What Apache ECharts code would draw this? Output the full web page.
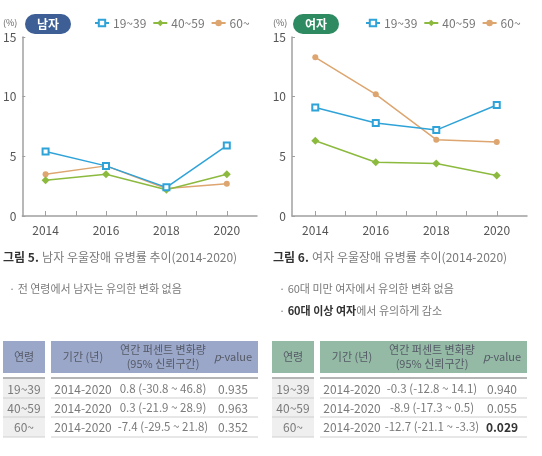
<!DOCTYPE html>
<html><head><meta charset="utf-8">
<script src="https://cdn.jsdelivr.net/npm/echarts@6/dist/echarts.min.js"></script>
<style>html,body{margin:0;padding:0;background:#fff}#c{width:542px;height:456px}</style>
</head><body><div id="c"></div>
<script>
const years = [2014, 2016, 2018, 2020];
const tickYears = [2014, 2015, 2016, 2017, 2018, 2019, 2020];
const ageGroups = ['19~39', '40~59', '60~'];
const men1939 = [5.4, 4.2, 2.4, 5.9];
const men4059 = [3.0, 3.5, 2.2, 3.5];
const men60 = [3.5, 4.2, 2.3, 2.7];
const women1939 = [9.1, 7.8, 7.2, 9.3];
const women4059 = [6.3, 4.5, 4.4, 3.4];
const women60 = [13.3, 10.2, 6.4, 6.2];
const yMin = 0, yMax = 15, yStep = 5;
const unitLabel = '(%)';
const badges = ['남자', '여자'];
const captionBold = ['그림 5.', '그림 6.'];
const captionText = ['남자 우울장애 유병률 추이(2014-2020)', '여자 우울장애 유병률 추이(2014-2020)'];
const menNotes = ['· 전 연령에서 남자는 유의한 변화 없음'];
const womenNote1 = '· 60대 미만 여자에서 유의한 변화 없음';
const womenNote2Bold = '60대 이상 여자';
const womenNote2Rest = '에서 유의하게 감소';
const tableHead = ['연령', '기간 (년)', '연간 퍼센트 변화량', '(95% 신뢰구간)', 'p', '-value'];
const period = ['2014-2020', '2014-2020', '2014-2020'];
const menAPC = ['0.8 (-30.8 ~ 46.8)', '0.3 (-21.9 ~ 28.9)', '-7.4 (-29.5 ~ 21.8)'];
const menP = ['0.935', '0.963', '0.352'];
const womenAPC = ['-0.3 (-12.8 ~ 14.1)', '-8.9 (-17.3 ~ 0.5)', '-12.7 (-21.1 ~ -3.3)'];
const womenP = ['0.940', '0.055', '0.029'];
const womenPBold = [false, false, true];

const FONT = '"Noto Sans CJK KR", "Noto Sans", sans-serif';
const colors = ['#2fa3d8', '#8cba3e', '#dda56f'];
const symbols = ['emptyRect', 'diamond', 'circle'];
const symSizes = [6, 8, 6];

function pairs(v) { return years.map((y, i) => [y, v[i]]); }

function mkSeries(idx, vals, name, k) {
  return {
    type: 'line', name: name, xAxisIndex: idx, yAxisIndex: idx,
    data: pairs(vals), symbol: symbols[k], symbolSize: symSizes[k],
    z: k === 0 ? 5 : 3 - k + 2,
    lineStyle: { color: colors[k], width: 1.5 },
    itemStyle: { color: colors[k], borderColor: colors[k], borderWidth: k === 0 ? 1.6 : 0 },
    emphasis: { disabled: true }, animation: false
  };
}

function mkX(idx) {
  return {
    type: 'value', gridIndex: idx, min: 2013.23, max: 2021,
    axisLine: { show: true, lineStyle: { color: '#a0a0a0', width: 1.5 } },
    axisTick: { show: true, inside: true, length: 5, customValues: tickYears, lineStyle: { color: '#a0a0a0' } },
    axisLabel: { customValues: years, color: '#555', fontSize: 12, fontFamily: FONT, margin: 8, formatter: v => String(v) },
    splitLine: { show: false }
  };
}
function mkY(idx) {
  return {
    type: 'value', gridIndex: idx, min: yMin, max: yMax, interval: yStep,
    axisLine: { show: true, lineStyle: { color: '#a0a0a0', width: 1.5 } },
    axisTick: { show: true, inside: true, length: 3, lineStyle: { color: '#a0a0a0' } },
    axisLabel: { color: '#555', fontSize: 12, fontFamily: FONT, margin: 6 },
    splitLine: { show: false }
  };
}

function txt(x, y, text, opt) {
  opt = opt || {};
  return {
    type: 'text', x: x, y: y, silent: true,
    style: Object.assign({
      text: text, fill: '#666', font: (opt.weight || 'normal') + ' ' + (opt.size || 12) + 'px ' + FONT,
      align: opt.align || 'left', textAlign: opt.align || 'left',
      verticalAlign: 'middle', textVerticalAlign: 'middle'
    }, opt.style || {})
  };
}

const graphics = [];
[[3, 25, '#3d5f96'], [273, 293, '#2d8a61']].forEach((p, i) => {
  graphics.push(txt(p[0], 23, unitLabel, { size: 9, style: { fill: '#666' } }));
  graphics.push({ type: 'rect', silent: true, shape: { x: p[1], y: 14, width: 46, height: 20, r: 10 }, style: { fill: p[2] } });
  graphics.push(txt(p[1] + 23, 24, badges[i], { size: 12, weight: 'bold', align: 'center', style: { fill: '#fff' } }));
});
[3, 273].forEach((x, i) => {
  graphics.push({
    type: 'text', x: x, y: 257, silent: true,
    style: {
      text: '{b|' + captionBold[i] + '} {n|' + captionText[i] + '}',
      verticalAlign: 'middle', textVerticalAlign: 'middle',
      rich: {
        b: { fontFamily: FONT, fontSize: 12, fontWeight: 'bold', fill: '#333', color: '#333' },
        n: { fontFamily: FONT, fontSize: 12, fill: '#7a7a7a', color: '#7a7a7a' }
      }
    }
  });
});
graphics.push(txt(9, 289, menNotes[0], { size: 11, style: { fill: '#7a7a7a' } }));
graphics.push(txt(279, 289, womenNote1, { size: 11, style: { fill: '#7a7a7a' } }));
graphics.push({
  type: 'text', x: 279, y: 311, silent: true,
  style: {
    text: '{n|· }{b|' + womenNote2Bold + '}{n|' + womenNote2Rest + '}',
    verticalAlign: 'middle', textVerticalAlign: 'middle',
    rich: {
      b: { fontFamily: FONT, fontSize: 11, fontWeight: 'bold', fill: '#333', color: '#333' },
      n: { fontFamily: FONT, fontSize: 11, fill: '#7a7a7a', color: '#7a7a7a' }
    }
  }
});

function table(x0, hdrColor, apc, pv, pBold) {
  const c1 = [x0, x0 + 42];
  const c2 = [x0 + 48, x0 + 255];
  const cx = [x0 + 21, x0 + 80, x0 + 160, x0 + 230];
  graphics.push({ type: 'rect', silent: true, shape: { x: c1[0], y: 341, width: c1[1] - c1[0], height: 32 }, style: { fill: hdrColor } });
  graphics.push({ type: 'rect', silent: true, shape: { x: c2[0], y: 341, width: c2[1] - c2[0], height: 32 }, style: { fill: hdrColor } });
  const hc = '#555a66';
  graphics.push(txt(cx[0], 357, tableHead[0], { size: 11, align: 'center', style: { fill: hc } }));
  graphics.push(txt(cx[1], 357, tableHead[1], { size: 11, align: 'center', style: { fill: hc } }));
  graphics.push(txt(cx[2], 350, tableHead[2], { size: 11, align: 'center', style: { fill: hc } }));
  graphics.push(txt(cx[2], 364, tableHead[3], { size: 11, align: 'center', style: { fill: hc } }));
  graphics.push({
    type: 'text', x: cx[3], y: 357, silent: true,
    style: {
      text: '{i|' + tableHead[4] + '}{n|' + tableHead[5] + '}',
      align: 'center', textAlign: 'center', verticalAlign: 'middle', textVerticalAlign: 'middle',
      rich: {
        i: { fontFamily: FONT, fontSize: 11, fontStyle: 'italic', fill: hc, color: hc },
        n: { fontFamily: FONT, fontSize: 11, fill: hc, color: hc }
      }
    }
  });
  graphics.push({ type: 'rect', silent: true, shape: { x: c1[0], y: 379, width: c1[1] - c1[0], height: 58 }, style: { fill: '#efefef' } });
  [c1, c2].forEach(c => {
    graphics.push({ type: 'rect', silent: true, shape: { x: c[0], y: 377, width: c[1] - c[0], height: 2 }, style: { fill: '#b5b5b5' } });
    [398, 417, 437].forEach(y => {
      graphics.push({ type: 'line', silent: true, shape: { x1: c[0], y1: y, x2: c[1], y2: y }, style: { stroke: '#cfcfcf', lineWidth: 1 } });
    });
  });
  const rowY = [389, 408, 427];
  ageGroups.forEach((g, r) => {
    graphics.push(txt(cx[0], rowY[r], g, { size: 12, align: 'center', style: { fill: '#7a7a7a' } }));
    graphics.push(txt(cx[1], rowY[r], period[r], { size: 12, align: 'center', style: { fill: '#7a7a7a' } }));
    graphics.push(txt(cx[2], rowY[r], apc[r], { size: 11.5, align: 'center', style: { fill: '#7a7a7a' } }));
    graphics.push(txt(cx[3], rowY[r], pv[r], { size: 12, align: 'center', weight: pBold && pBold[r] ? 'bold' : 'normal', style: { fill: pBold && pBold[r] ? '#333' : '#7a7a7a' } }));
  });
}
table(3, '#9ba7c9', menAPC, menP, null);
table(272, '#94baa5', womenAPC, womenP, womenPBold);

const legendBase = {
  data: ageGroups, itemWidth: 14, itemHeight: 8, itemGap: 6, padding: 0, top: 17,
  textStyle: { color: '#777', fontSize: 12, fontFamily: FONT, padding: [0, 0, 0, -1] },
  selectedMode: false
};

const chart = echarts.init(document.getElementById('c'), null, { renderer: 'canvas' });
chart.setOption({
  animation: false,
  textStyle: { fontFamily: FONT },
  grid: [
    { left: 22, top: 37, width: 235, height: 179 },
    { left: 292, top: 37, width: 235, height: 179 }
  ],
  xAxis: [mkX(0), mkX(1)],
  yAxis: [mkY(0), mkY(1)],
  legend: [
    Object.assign({}, legendBase, { left: 94 }),
    Object.assign({}, legendBase, { left: 365 })
  ],
  series: [
    mkSeries(0, men60, ageGroups[2], 2),
    mkSeries(0, men4059, ageGroups[1], 1),
    mkSeries(0, men1939, ageGroups[0], 0),
    mkSeries(1, women60, ageGroups[2], 2),
    mkSeries(1, women4059, ageGroups[1], 1),
    mkSeries(1, women1939, ageGroups[0], 0)
  ],
  graphic: graphics
});
</script></body></html>
